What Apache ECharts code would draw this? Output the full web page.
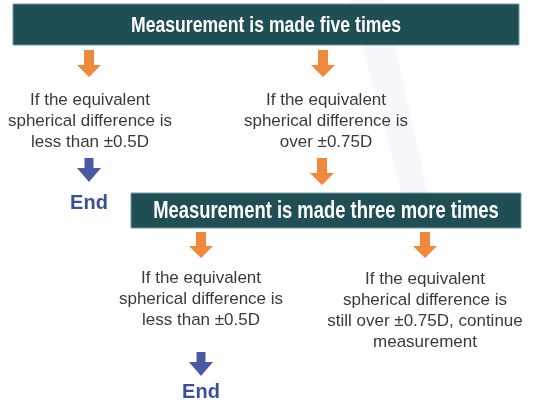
<!DOCTYPE html>
<html>
<head>
<meta charset="utf-8">
<script src="https://cdn.jsdelivr.net/npm/echarts@6/dist/echarts.min.js"></script>
<style>
  html, body { margin: 0; padding: 0; background: #fff; }
  #main { width: 535px; height: 407px; }
</style>
</head>
<body>
<div id="main"></div>
<script>
// texts of the flow
var bannerTexts = ['Measurement is made five times', 'Measurement is made three more times'];
var conditionTexts = [
    ['If the equivalent', 'spherical difference is', 'less than \u00b10.5D'],
    ['If the equivalent', 'spherical difference is', 'over \u00b10.75D'],
    ['If the equivalent', 'spherical difference is', 'less than \u00b10.5D'],
    ['If the equivalent', 'spherical difference is', 'still over \u00b10.75D, continue', 'measurement']
];
var endText = 'End';

var ORANGE = '#f0893b';
var BLUE = '#4a59a6';
var TEAL = '#1f4f55';
var GREY = '#3a3a3a';

var myChart = echarts.init(document.getElementById('main'));

// arrow pointing down, top at y
function arrow(cx, top, color, shaftW, headW, shaftH, headH) {
    var s = shaftW / 2, h = headW / 2;
    return {
        type: 'polygon',
        shape: {
            points: [
                [cx - s, top], [cx + s, top], [cx + s, top + shaftH],
                [cx + h, top + shaftH], [cx, top + shaftH + headH],
                [cx - h, top + shaftH], [cx - s, top + shaftH]
            ]
        },
        style: { fill: color }
    };
}

// banner with condensed looking title (no narrow font installed, so squeeze it)
function banner(x, y, w, h, text, size) {
    return [{
        type: 'rect',
        shape: { x: x, y: y, width: w, height: h },
        style: { fill: TEAL, stroke: '#6f9aa0', lineWidth: 1 }
    }, {
        type: 'text',
        x: x + w / 2, y: y + h / 2 + 1,
        scaleX: 0.8,
        style: {
            text: text, fill: '#ffffff',
            font: 'bold ' + size + 'px "Liberation Sans", Arial, sans-serif',
            align: 'center', verticalAlign: 'middle'
        }
    }];
}

function block(cx, firstY, lines) {
    return lines.map(function (t, i) {
        return {
            type: 'text',
            x: cx, y: firstY + i * 21,
            style: {
                text: t, fill: GREY,
                font: '17px "Liberation Sans", Arial, sans-serif',
                align: 'center', verticalAlign: 'middle'
            }
        };
    });
}

function endLabel(cx, cy) {
    return {
        type: 'text',
        x: cx, y: cy,
        style: {
            text: endText, fill: '#3b4e97',
            font: 'bold 20px "Liberation Sans", Arial, sans-serif',
            align: 'center', verticalAlign: 'middle'
        }
    };
}

var elements = [];
// faint streak in the background
elements.push({
    type: 'polygon',
    shape: { points: [[350, 0], [385, 0], [428, 195], [402, 195]] },
    style: { fill: 'rgba(110,125,200,0.05)' }
});
elements = elements.concat(banner(13, 4, 506, 41, bannerTexts[0], 22));
elements.push(arrow(89, 50, ORANGE, 10, 24, 15, 12));
elements.push(arrow(323, 50, ORANGE, 10, 24, 15, 12));
elements = elements.concat(block(90, 100, conditionTexts[0]));
elements = elements.concat(block(326, 100, conditionTexts[1]));
elements.push(arrow(89, 158, BLUE, 9, 24, 10, 14));
elements.push(endLabel(89, 203));
elements.push(arrow(322, 158, ORANGE, 10, 24, 15, 12));
elements = elements.concat(banner(131, 193, 390, 35, bannerTexts[1], 23));
elements.push(arrow(201, 232, ORANGE, 10, 24, 14, 12));
elements.push(arrow(425, 232, ORANGE, 10, 24, 14, 12));
elements = elements.concat(block(201, 278, conditionTexts[2]));
elements = elements.concat(block(425, 279, conditionTexts[3]));
elements.push(arrow(201, 352, BLUE, 9, 24, 10, 14));
elements.push(endLabel(201, 392));

myChart.setOption({
    backgroundColor: '#ffffff',
    animation: false,
    graphic: { elements: elements }
});
</script>
</body>
</html>
